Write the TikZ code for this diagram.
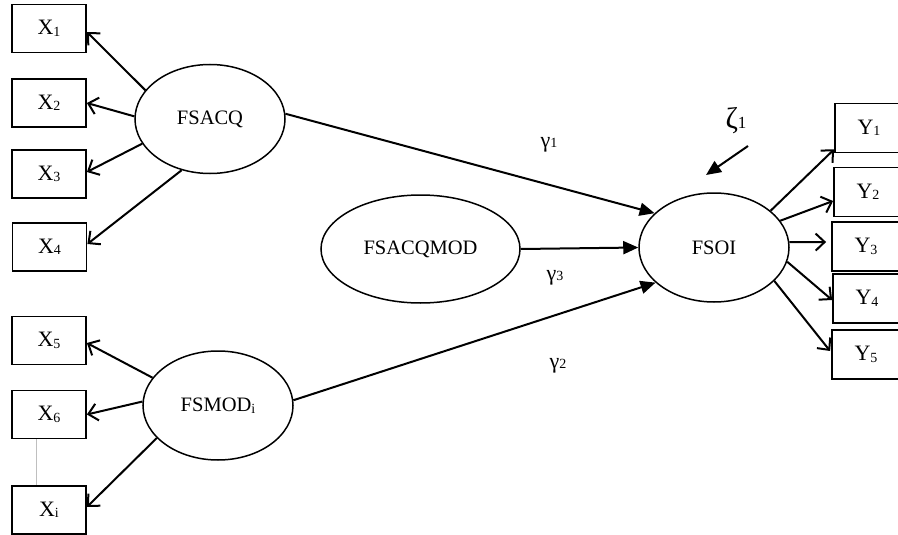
\documentclass[tikz,border=0pt]{standalone}
\usepackage{fontspec}
\setmainfont{Liberation Serif}
\usetikzlibrary{shapes.geometric,arrows.meta}
\newcommand{\lsub}[1]{\raisebox{-1.5pt}{\fontsize{14}{14}\selectfont #1}}
\begin{document}
\begin{tikzpicture}[x=1pt,y=-1pt,
 obs/.style={draw,line width=1.8pt,minimum width=74pt,minimum height=48pt,inner sep=0pt,font=\fontsize{22}{24}\selectfont},
 yobs/.style={obs,minimum width=68pt,minimum height=49pt},
 lat/.style={draw,ellipse,line width=1.5pt,minimum width=150pt,minimum height=109pt,inner sep=0pt,font=\fontsize{20.5}{24}\selectfont},
 meas/.style={line width=2pt,-{Straight Barb[length=9pt,width=17pt,line width=2pt]}},
 strpath/.style={line width=2pt,-{Triangle[length=15pt,width=13pt]}},
 glab/.style={font=\fontsize{22}{24}\selectfont,inner sep=0pt}]
\useasboundingbox (0,0) rectangle (898,535);
\clip (0,0) rectangle (898,535);
% observed X
\node[obs] (x1) at (49,28.5) {X\lsub{1}};
\node[obs] (x2) at (49,103) {X\lsub{2}};
\node[obs] (x3) at (49,174) {X\lsub{3}};
\node[obs] (x4) at (49.5,247) {X\lsub{4}};
\node[obs] (x5) at (49,340.5) {X\lsub{5}};
\node[obs] (x6) at (49,414.5) {X\lsub{6}};
\node[obs] (xi) at (49,510) {X\lsub{i}};
% observed Y
\node[yobs] (y1) at (869,128) {Y\lsub{1}};
\node[yobs] (y2) at (868,192) {Y\lsub{2}};
\node[yobs] (y3) at (866,246.5) {Y\lsub{3}};
\node[yobs] (y4) at (867,298.5) {Y\lsub{4}};
\node[yobs] (y5) at (866,354.5) {Y\lsub{5}};
% latent
\node[lat] (fsacq) at (210,119) {FSACQ};
\node[lat] (fsmod) at (218,405.5) {FSMOD\lsub{i}};
\node[lat,minimum width=199pt,minimum height=108pt] (fsacqmod) at (420.5,249) {FSACQMOD};
\node[lat] (fsoi) at (714,247.5) {FSOI};
% measurement arrows
\draw[meas] (fsacq.156) -- ([yshift=-3.5pt]x1.east);
\draw[meas] (fsacq.178) -- (x2.east);
\draw[meas] (fsacq.200) -- ([yshift=2pt]x3.east);
\draw[meas] (fsacq.241) -- ([yshift=3pt]x4.east);
\draw[meas] (fsmod.157) -- ([yshift=-2.5pt]x5.east);
\draw[meas] (fsmod.177) -- (x6.east);
\draw[meas] (fsmod.208) -- ([yshift=3pt]xi.east);
\draw[meas] (fsoi.33) -- ([yshift=4pt]y1.south west);
\draw[meas] (fsoi.22) -- ([yshift=-9pt]y2.west);
\draw[meas] (fsoi.4) -- ([xshift=-5pt,yshift=4.5pt]y3.west);
\draw[meas] (fsoi.-11) -- ([yshift=-1.5pt]y4.west);
\draw[meas] (fsoi.-29) -- ([xshift=-1pt,yshift=3.5pt]y5.west);
% structural paths
\draw[strpath] (fsacq.4) -- (fsoi.150);
\draw[strpath] (fsacqmod.east) -- (fsoi.west);
\draw[strpath] (fsmod.4) -- (fsoi.211);
% disturbance
\coordinate (zs) at (748,146);
\coordinate (ze) at (706,175);
\draw[strpath] (zs) -- (ze);
\node[font=\fontsize{30}{32}\selectfont,inner sep=0pt] (zeta) at (736,121) {ζ{\fontsize{17}{17}\selectfont 1}};
% gamma labels
\node[glab] (g1) at (549,145) {γ{\fontsize{14}{14}\selectfont 1}};
\node[glab] (g3) at (555,278) {γ{\fontsize{14}{14}\selectfont 3}};
\node[glab] (g2) at (558,366) {γ{\fontsize{14}{14}\selectfont 2}};
% dotted continuation
\draw[gray!50,line width=0.6pt] ([xshift=-13pt]x6.south) -- ([xshift=-13pt]xi.north);
\end{tikzpicture}
\end{document}
